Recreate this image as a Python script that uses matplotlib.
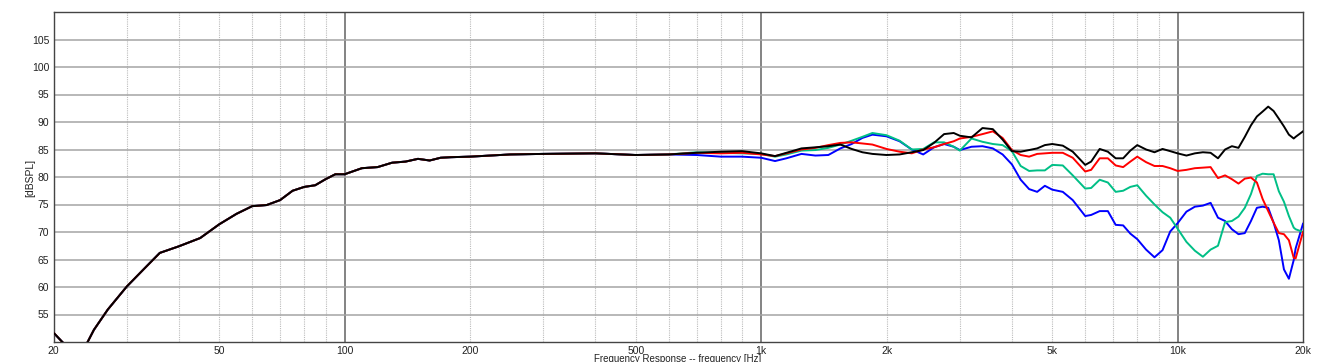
import matplotlib
matplotlib.use('Agg')
import matplotlib.pyplot as plt
from matplotlib.ticker import FixedLocator, FixedFormatter

plt.rcParams['font.family'] = ['Liberation Sans', 'DejaVu Sans']

# low end: only the black trace is visible (others lie underneath it)
freq_low = [20, 21, 22, 23, 24, 25, 27, 30, 33, 36, 40, 45, 50, 55, 60, 65, 70, 75,
            80, 85, 90, 95, 100, 110, 120, 130, 140, 150, 160, 170, 180, 200, 250,
            300, 400, 500]
spl_low = [51.7, 50.0, 48.6, 48.3, 49.6, 52.2, 55.9, 60.1, 63.3, 66.2, 67.4, 68.9,
           71.4, 73.3, 74.7, 74.9, 75.8, 77.5, 78.2, 78.5, 79.6, 80.5, 80.5, 81.6,
           81.8, 82.6, 82.8, 83.3, 83.0, 83.5, 83.6, 83.7, 84.1, 84.2, 84.3, 84.0]

freq_hi = [600, 700, 800, 900, 1000, 1080, 1150, 1250, 1350, 1450,
           1550, 1650, 1750, 1850, 2000, 2150, 2300, 2450, 2600, 2750,
           2900, 3000, 3200, 3400, 3600, 3800, 4000, 4200, 4400, 4600,
           4800, 5000, 5300, 5600, 6000, 6200, 6500, 6800, 7100, 7400,
           7700, 8000, 8400, 8800, 9200, 9600, 10000, 10500, 11000, 11500,
           12000, 12500, 13000, 13500, 14000, 14500, 15000, 15500, 16000, 16500,
           17000, 17500, 18000, 18500, 19000, 19200, 20000]

black_hi = [84.1, 84.4, 84.6, 84.7, 84.3, 83.8, 84.4, 85.2, 85.4, 85.6,
            85.9, 85.1, 84.5, 84.2, 84.0, 84.1, 84.5, 84.9, 86.2, 87.8,
            88.0, 87.5, 87.2, 88.9, 88.7, 86.8, 84.7, 84.6, 84.9, 85.2,
            85.8, 86.0, 85.7, 84.6, 82.2, 82.8, 85.1, 84.6, 83.4, 83.4,
            84.8, 85.8, 85.0, 84.5, 85.1, 84.7, 84.3, 83.9, 84.3, 84.5,
            84.4, 83.4, 85.0, 85.6, 85.3, 87.3, 89.4, 91.0, 91.9, 92.8,
            92.0, 90.6, 89.2, 87.7, 87.0, 87.3, 88.3]

red_hi = [84.1, 84.4, 84.3, 84.4, 84.1, 83.8, 84.3, 85.0, 85.3, 85.8,
          86.2, 86.3, 86.1, 85.9, 85.1, 84.6, 84.3, 85.0, 85.4, 86.0,
          86.5, 87.0, 87.3, 87.8, 88.3, 87.1, 84.9, 84.0, 83.7, 84.2,
          84.3, 84.4, 84.4, 83.5, 81.0, 81.3, 83.4, 83.4, 82.1, 81.8,
          82.8, 83.7, 82.7, 82.0, 82.0, 81.6, 81.1, 81.3, 81.6, 81.7,
          81.8, 79.8, 80.3, 79.6, 78.8, 79.7, 79.9, 79.0, 76.0, 73.8,
          71.7, 69.8, 69.6, 68.5, 65.3, 65.2, 70.0]

green_hi = [84.1, 84.5, 84.4, 84.3, 84.2, 83.7, 84.1, 84.8, 84.9, 85.3,
            85.9, 86.6, 87.3, 88.0, 87.6, 86.6, 85.0, 85.1, 86.3, 86.3,
            85.5, 84.8, 87.0, 86.4, 86.0, 85.8, 84.7, 82.0, 81.1, 81.2,
            81.2, 82.2, 82.1, 80.3, 77.9, 78.0, 79.5, 79.0, 77.3, 77.5,
            78.2, 78.5, 76.6, 75.0, 73.6, 72.6, 70.6, 68.2, 66.6, 65.5,
            66.8, 67.5, 71.8, 72.0, 72.8, 74.4, 76.9, 80.2, 80.6, 80.5,
            80.5, 77.4, 75.5, 72.9, 70.8, 70.5, 70.0]

blue_hi = [84.1, 84.0, 83.7, 83.7, 83.5, 82.9, 83.4, 84.2, 83.9, 84.0,
           85.2, 86.0, 87.1, 87.7, 87.4, 86.5, 85.0, 84.1, 85.4, 86.0,
           85.5, 84.9, 85.5, 85.6, 85.2, 84.1, 82.3, 79.5, 77.8, 77.3,
           78.4, 77.7, 77.3, 75.8, 72.9, 73.1, 73.8, 73.8, 71.3, 71.2,
           69.7, 68.7, 66.8, 65.4, 66.7, 70.1, 71.6, 73.7, 74.6, 74.8,
           75.3, 72.6, 72.0, 70.5, 69.6, 69.8, 72.0, 74.4, 74.6, 74.4,
           71.7, 68.5, 63.2, 61.5, 64.9, 67.0, 71.5]

major_x = [100, 1000, 10000]
major_lbl = ['100', '1k', '10k']
minor_x = [20, 30, 40, 50, 60, 70, 80, 90, 200, 300, 400, 500, 600, 700, 800, 900,
           2000, 3000, 4000, 5000, 6000, 7000, 8000, 9000, 20000]
minor_lbl = ['20', '', '', '50', '', '', '', '', '200', '', '', '500', '', '', '', '',
             '2k', '', '', '5k', '', '', '', '', '20k']
y_ticks = [55, 60, 65, 70, 75, 80, 85, 90, 95, 100, 105]

W, H = 1317, 362
fig = plt.figure(figsize=(W / 100, H / 100), dpi=100)
ax = fig.add_axes([53.5 / W, 20 / H, (1303 - 53.5) / W, 330 / H])

freq = freq_low + freq_hi
for vals, col in [(blue_hi, '#0000ff'), (green_hi, '#00bf86'),
                  (red_hi, '#ff0000'), (black_hi, '#000000')]:
    ax.plot(freq, spl_low + vals, color=col, lw=1.4, solid_joinstyle='round',
            zorder=3)

ax.set_xscale('log')
ax.set_xlim(20, 20000)
ax.set_ylim(50, 110)

ax.xaxis.set_major_locator(FixedLocator(major_x))
ax.xaxis.set_major_formatter(FixedFormatter(major_lbl))
ax.xaxis.set_minor_locator(FixedLocator(minor_x))
ax.xaxis.set_minor_formatter(FixedFormatter(minor_lbl))
ax.set_yticks(y_ticks)

ax.grid(which='minor', axis='x', color='#bcbcbc', lw=0.8, ls=(0, (1, 1)))
ax.grid(which='major', axis='x', color='#6e6e6e', lw=1.2)
ax.grid(which='major', axis='y', color='#a4a4a4', lw=1.1)
ax.set_axisbelow(True)

ax.tick_params(which='both', length=0, labelsize=7.5, colors='#222222', pad=3)
for s in ax.spines.values():
    s.set_color('#444444')
    s.set_linewidth(1.0)

fig.text(30 / W, 1 - 177.5 / H, '[dBSPL]', rotation=90, ha='center', va='center',
         fontsize=7.5, color='#222222')
fig.text(678 / W, 3 / H, 'Frequency Response -- frequency [Hz]', ha='center',
         va='center', fontsize=7, color='#222222')

fig.savefig('out.png', dpi=100)
